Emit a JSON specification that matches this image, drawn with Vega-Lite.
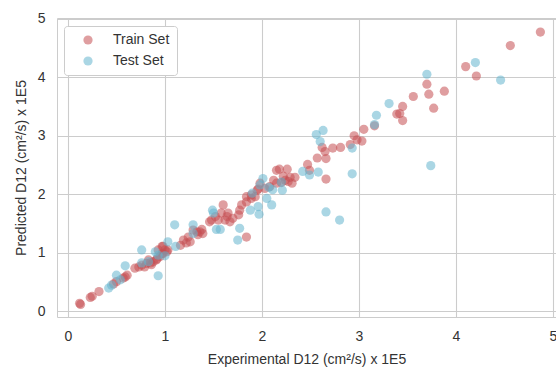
{
  "$schema": "https://vega.github.io/schema/vega-lite/v6.json",
  "autosize": {"type": "none"},
  "width": 499,
  "height": 299,
  "padding": {"left": 57, "top": 18, "right": 0, "bottom": 50},
  "background": "white",
  "config": {
    "font": "Liberation Sans",
    "view": {"stroke": "#cccccc", "strokeWidth": 1}
  },
  "data": {
    "values": [
      {"exp": 0.12, "pred": 0.14, "set": "Train Set"},
      {"exp": 0.13, "pred": 0.12, "set": "Train Set"},
      {"exp": 0.23, "pred": 0.24, "set": "Train Set"},
      {"exp": 0.25, "pred": 0.26, "set": "Train Set"},
      {"exp": 0.32, "pred": 0.34, "set": "Train Set"},
      {"exp": 0.47, "pred": 0.47, "set": "Train Set"},
      {"exp": 0.50, "pred": 0.51, "set": "Train Set"},
      {"exp": 0.57, "pred": 0.57, "set": "Train Set"},
      {"exp": 0.59, "pred": 0.59, "set": "Train Set"},
      {"exp": 0.61, "pred": 0.62, "set": "Train Set"},
      {"exp": 0.69, "pred": 0.74, "set": "Train Set"},
      {"exp": 0.73, "pred": 0.76, "set": "Train Set"},
      {"exp": 0.76, "pred": 0.79, "set": "Train Set"},
      {"exp": 0.79, "pred": 0.76, "set": "Train Set"},
      {"exp": 0.81, "pred": 0.82, "set": "Train Set"},
      {"exp": 0.85, "pred": 0.83, "set": "Train Set"},
      {"exp": 0.86, "pred": 0.80, "set": "Train Set"},
      {"exp": 0.83, "pred": 0.88, "set": "Train Set"},
      {"exp": 0.88, "pred": 0.85, "set": "Train Set"},
      {"exp": 0.91, "pred": 0.88, "set": "Train Set"},
      {"exp": 0.92, "pred": 0.90, "set": "Train Set"},
      {"exp": 0.95, "pred": 0.94, "set": "Train Set"},
      {"exp": 0.98, "pred": 0.99, "set": "Train Set"},
      {"exp": 0.97, "pred": 0.99, "set": "Train Set"},
      {"exp": 1.02, "pred": 1.02, "set": "Train Set"},
      {"exp": 0.97, "pred": 1.11, "set": "Train Set"},
      {"exp": 0.98, "pred": 1.11, "set": "Train Set"},
      {"exp": 1.00, "pred": 1.05, "set": "Train Set"},
      {"exp": 1.03, "pred": 1.05, "set": "Train Set"},
      {"exp": 0.93, "pred": 1.05, "set": "Train Set"},
      {"exp": 1.16, "pred": 1.13, "set": "Train Set"},
      {"exp": 1.19, "pred": 1.22, "set": "Train Set"},
      {"exp": 1.22, "pred": 1.17, "set": "Train Set"},
      {"exp": 1.24, "pred": 1.27, "set": "Train Set"},
      {"exp": 1.26, "pred": 1.19, "set": "Train Set"},
      {"exp": 1.29, "pred": 1.39, "set": "Train Set"},
      {"exp": 1.33, "pred": 1.36, "set": "Train Set"},
      {"exp": 1.34, "pred": 1.31, "set": "Train Set"},
      {"exp": 1.36, "pred": 1.36, "set": "Train Set"},
      {"exp": 1.38, "pred": 1.40, "set": "Train Set"},
      {"exp": 1.39, "pred": 1.33, "set": "Train Set"},
      {"exp": 1.46, "pred": 1.53, "set": "Train Set"},
      {"exp": 1.48, "pred": 1.56, "set": "Train Set"},
      {"exp": 1.52, "pred": 1.62, "set": "Train Set"},
      {"exp": 1.55, "pred": 1.56, "set": "Train Set"},
      {"exp": 1.58, "pred": 1.68, "set": "Train Set"},
      {"exp": 1.60, "pred": 1.82, "set": "Train Set"},
      {"exp": 1.62, "pred": 1.56, "set": "Train Set"},
      {"exp": 1.64, "pred": 1.62, "set": "Train Set"},
      {"exp": 1.65, "pred": 1.68, "set": "Train Set"},
      {"exp": 1.67, "pred": 1.53, "set": "Train Set"},
      {"exp": 1.70, "pred": 1.59, "set": "Train Set"},
      {"exp": 1.76, "pred": 1.65, "set": "Train Set"},
      {"exp": 1.77, "pred": 1.73, "set": "Train Set"},
      {"exp": 1.79, "pred": 1.82, "set": "Train Set"},
      {"exp": 1.84, "pred": 1.87, "set": "Train Set"},
      {"exp": 1.84, "pred": 1.96, "set": "Train Set"},
      {"exp": 1.84, "pred": 1.27, "set": "Train Set"},
      {"exp": 1.89, "pred": 1.99, "set": "Train Set"},
      {"exp": 1.89, "pred": 1.93, "set": "Train Set"},
      {"exp": 1.93, "pred": 1.96, "set": "Train Set"},
      {"exp": 1.95, "pred": 2.07, "set": "Train Set"},
      {"exp": 1.96, "pred": 2.09, "set": "Train Set"},
      {"exp": 1.98, "pred": 2.19, "set": "Train Set"},
      {"exp": 2.03, "pred": 2.10, "set": "Train Set"},
      {"exp": 2.08, "pred": 2.13, "set": "Train Set"},
      {"exp": 2.12, "pred": 2.24, "set": "Train Set"},
      {"exp": 2.15, "pred": 2.19, "set": "Train Set"},
      {"exp": 2.15, "pred": 2.41, "set": "Train Set"},
      {"exp": 2.18, "pred": 2.43, "set": "Train Set"},
      {"exp": 2.20, "pred": 2.20, "set": "Train Set"},
      {"exp": 2.22, "pred": 2.31, "set": "Train Set"},
      {"exp": 2.24, "pred": 2.24, "set": "Train Set"},
      {"exp": 2.26, "pred": 2.43, "set": "Train Set"},
      {"exp": 2.27, "pred": 2.22, "set": "Train Set"},
      {"exp": 2.29, "pred": 2.29, "set": "Train Set"},
      {"exp": 2.31, "pred": 2.19, "set": "Train Set"},
      {"exp": 2.34, "pred": 2.29, "set": "Train Set"},
      {"exp": 2.47, "pred": 2.51, "set": "Train Set"},
      {"exp": 2.49, "pred": 2.41, "set": "Train Set"},
      {"exp": 2.57, "pred": 2.62, "set": "Train Set"},
      {"exp": 2.62, "pred": 2.80, "set": "Train Set"},
      {"exp": 2.65, "pred": 2.73, "set": "Train Set"},
      {"exp": 2.66, "pred": 2.61, "set": "Train Set"},
      {"exp": 2.66, "pred": 2.26, "set": "Train Set"},
      {"exp": 2.73, "pred": 2.79, "set": "Train Set"},
      {"exp": 2.81, "pred": 2.80, "set": "Train Set"},
      {"exp": 2.91, "pred": 2.85, "set": "Train Set"},
      {"exp": 2.95, "pred": 3.00, "set": "Train Set"},
      {"exp": 2.98, "pred": 2.93, "set": "Train Set"},
      {"exp": 3.03, "pred": 2.91, "set": "Train Set"},
      {"exp": 3.05, "pred": 3.11, "set": "Train Set"},
      {"exp": 3.16, "pred": 3.17, "set": "Train Set"},
      {"exp": 3.39, "pred": 3.37, "set": "Train Set"},
      {"exp": 3.42, "pred": 3.38, "set": "Train Set"},
      {"exp": 3.45, "pred": 3.26, "set": "Train Set"},
      {"exp": 3.45, "pred": 3.50, "set": "Train Set"},
      {"exp": 3.56, "pred": 3.67, "set": "Train Set"},
      {"exp": 3.70, "pred": 3.88, "set": "Train Set"},
      {"exp": 3.72, "pred": 3.71, "set": "Train Set"},
      {"exp": 3.77, "pred": 3.47, "set": "Train Set"},
      {"exp": 3.88, "pred": 3.76, "set": "Train Set"},
      {"exp": 4.10, "pred": 4.18, "set": "Train Set"},
      {"exp": 4.21, "pred": 4.02, "set": "Train Set"},
      {"exp": 4.56, "pred": 4.54, "set": "Train Set"},
      {"exp": 4.87, "pred": 4.77, "set": "Train Set"},
      {"exp": 0.42, "pred": 0.40, "set": "Test Set"},
      {"exp": 0.45, "pred": 0.45, "set": "Test Set"},
      {"exp": 0.50, "pred": 0.62, "set": "Test Set"},
      {"exp": 0.54, "pred": 0.54, "set": "Test Set"},
      {"exp": 0.59, "pred": 0.78, "set": "Test Set"},
      {"exp": 0.76, "pred": 1.05, "set": "Test Set"},
      {"exp": 0.76, "pred": 0.83, "set": "Test Set"},
      {"exp": 0.83, "pred": 0.85, "set": "Test Set"},
      {"exp": 0.90, "pred": 1.02, "set": "Test Set"},
      {"exp": 0.93, "pred": 0.96, "set": "Test Set"},
      {"exp": 0.93, "pred": 0.61, "set": "Test Set"},
      {"exp": 1.00, "pred": 0.95, "set": "Test Set"},
      {"exp": 1.03, "pred": 1.19, "set": "Test Set"},
      {"exp": 1.11, "pred": 1.11, "set": "Test Set"},
      {"exp": 1.10, "pred": 1.48, "set": "Test Set"},
      {"exp": 1.29, "pred": 1.48, "set": "Test Set"},
      {"exp": 1.29, "pred": 1.33, "set": "Test Set"},
      {"exp": 1.49, "pred": 1.73, "set": "Test Set"},
      {"exp": 1.50, "pred": 1.68, "set": "Test Set"},
      {"exp": 1.53, "pred": 1.40, "set": "Test Set"},
      {"exp": 1.57, "pred": 1.40, "set": "Test Set"},
      {"exp": 1.77, "pred": 1.42, "set": "Test Set"},
      {"exp": 1.75, "pred": 1.22, "set": "Test Set"},
      {"exp": 1.88, "pred": 1.73, "set": "Test Set"},
      {"exp": 1.90, "pred": 2.02, "set": "Test Set"},
      {"exp": 1.96, "pred": 1.79, "set": "Test Set"},
      {"exp": 1.97, "pred": 1.66, "set": "Test Set"},
      {"exp": 2.05, "pred": 1.93, "set": "Test Set"},
      {"exp": 2.10, "pred": 1.82, "set": "Test Set"},
      {"exp": 2.01, "pred": 2.27, "set": "Test Set"},
      {"exp": 1.98, "pred": 2.16, "set": "Test Set"},
      {"exp": 2.07, "pred": 2.12, "set": "Test Set"},
      {"exp": 2.11, "pred": 2.08, "set": "Test Set"},
      {"exp": 2.20, "pred": 2.21, "set": "Test Set"},
      {"exp": 2.21, "pred": 2.07, "set": "Test Set"},
      {"exp": 2.42, "pred": 2.39, "set": "Test Set"},
      {"exp": 2.49, "pred": 2.33, "set": "Test Set"},
      {"exp": 2.58, "pred": 2.38, "set": "Test Set"},
      {"exp": 2.56, "pred": 3.02, "set": "Test Set"},
      {"exp": 2.63, "pred": 3.09, "set": "Test Set"},
      {"exp": 2.60, "pred": 2.90, "set": "Test Set"},
      {"exp": 2.93, "pred": 2.79, "set": "Test Set"},
      {"exp": 2.93, "pred": 2.35, "set": "Test Set"},
      {"exp": 2.66, "pred": 1.70, "set": "Test Set"},
      {"exp": 2.80, "pred": 1.56, "set": "Test Set"},
      {"exp": 3.16, "pred": 3.19, "set": "Test Set"},
      {"exp": 3.18, "pred": 3.35, "set": "Test Set"},
      {"exp": 3.31, "pred": 3.55, "set": "Test Set"},
      {"exp": 3.70, "pred": 4.05, "set": "Test Set"},
      {"exp": 3.74, "pred": 2.49, "set": "Test Set"},
      {"exp": 4.20, "pred": 4.25, "set": "Test Set"},
      {"exp": 4.46, "pred": 3.95, "set": "Test Set"}
    ]
  },
  "mark": {"type": "point", "filled": true, "size": 85, "opacity": 0.55, "strokeWidth": 1, "strokeOpacity": 0.55},
  "encoding": {
    "x": {
      "field": "exp", "type": "quantitative",
      "scale": {"domain": [-0.113, 5.031], "nice": false, "zero": false},
      "axis": {
        "title": "Experimental D12 (cm²/s) x 1E5",
        "values": [0, 1, 2, 3, 4, 5],
        "format": "d",
        "grid": true, "gridColor": "#cccccc", "gridWidth": 1.1,
        "domain": false, "ticks": false,
        "labelPadding": 12, "labelFontSize": 14, "labelColor": "#333333",
        "titleFontSize": 14, "titleFontWeight": "normal", "titleColor": "#333333", "titlePadding": 9
      }
    },
    "y": {
      "field": "pred", "type": "quantitative",
      "scale": {"domain": [-0.094, 5.01], "nice": false, "zero": false},
      "axis": {
        "title": "Predicted D12 (cm²/s) x 1E5",
        "values": [0, 1, 2, 3, 4, 5],
        "format": "d",
        "grid": true, "gridColor": "#cccccc", "gridWidth": 1.1,
        "domain": false, "ticks": false,
        "labelPadding": 12, "labelFontSize": 14, "labelColor": "#333333",
        "titleFontSize": 14, "titleFontWeight": "normal", "titleColor": "#333333", "titlePadding": 9
      }
    },
    "color": {
      "field": "set", "type": "nominal",
      "scale": {"domain": ["Train Set", "Test Set"], "range": ["#C44E52", "#64B5CD"]},
      "legend": {
        "title": null,
        "orient": "none", "legendX": 7, "legendY": 8,
        "fillColor": "white", "strokeColor": "#cccccc", "cornerRadius": 3,
        "padding": 7, "symbolOffset": 10, "labelOffset": 18,
        "symbolSize": 85, "symbolOpacity": 0.55, "symbolType": "circle",
        "labelFontSize": 14, "labelColor": "#333333", "rowPadding": 7
      }
    }
  }
}
